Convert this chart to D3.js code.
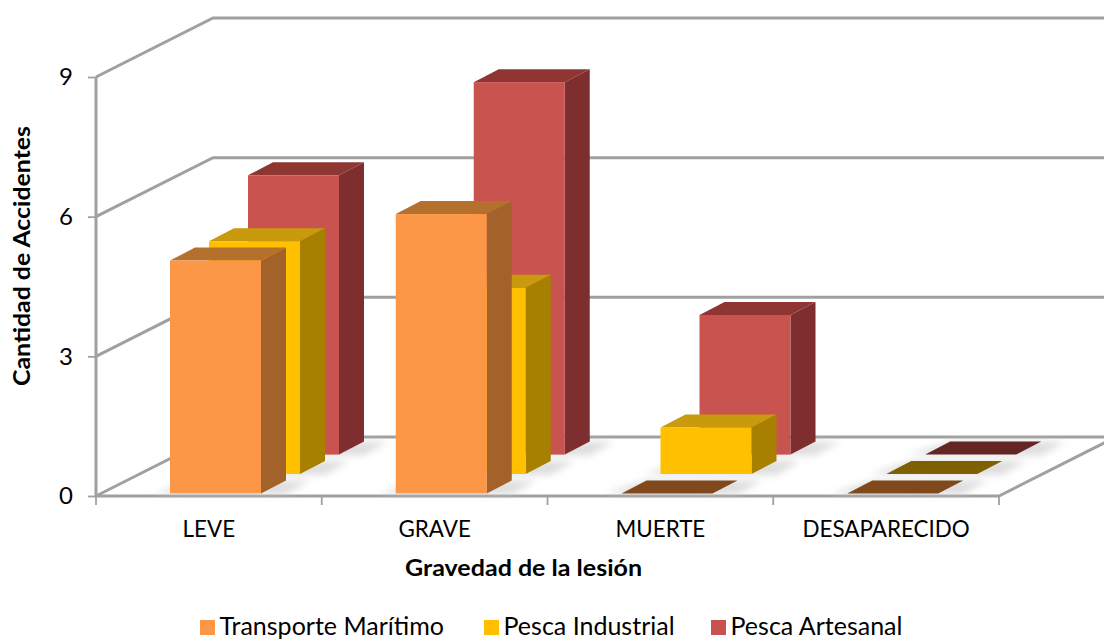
<!DOCTYPE html>
<html><head><meta charset="utf-8">
<script src="https://cdn.jsdelivr.net/npm/d3@7"></script>
<style>html,body{margin:0;padding:0;background:#fff;overflow:hidden}svg{display:block}text{font-family:Lato,"Open Sans",sans-serif;fill:#000}</style>
</head><body><svg id="c" width="1104" height="639"></svg>
<script>
const categories = ["LEVE","GRAVE","MUERTE","DESAPARECIDO"];
const seriesNames = ["Transporte Marítimo","Pesca Industrial","Pesca Artesanal"];
const transporte = [5,6,0,0];
const industrial = [5,4,1,0];
const artesanal = [6,8,3,0];
const yTicks = [0,3,6,9];
const faceColors = ["#fb9747","#ffc000","#c8524f"];
const topColors = ["#b5702f","#c99a08","#8f3533"];
const sideColors = ["#a3622c","#a88000","#7e2f2d"];
const flatColors = ["#7f4a1c","#7f6000","#632523"];

const svg = d3.select("#c");
const L=96,R=999,B=496,T=77, DX=117, DY=-59;
const x = d3.scaleBand().domain(categories).range([L,R]);
const y = d3.scaleLinear().domain([0,9]).range([B,T]);
const GRID="#a0a0a0";

const defs = svg.append("defs");
defs.append("filter").attr("id","sh").attr("x","-30%").attr("y","-100%").attr("width","160%").attr("height","300%")
  .append("feGaussianBlur").attr("stdDeviation",3.5);
defs.append("filter").attr("id","soft").append("feGaussianBlur").attr("stdDeviation",0.6);

// walls
const grid = svg.append("g").attr("fill","none").attr("stroke",GRID).attr("stroke-width",3).attr("filter","url(#soft)");
yTicks.forEach(t=>{
  grid.append("path").attr("d",d3.line()([[L,y(t)],[L+DX,y(t)+DY],[1104,y(t)+DY]]));
});
grid.append("path").attr("d",d3.line()([[L,T],[L,B],[R,B],[R+DX,B+DY]]));

// axes
const yAxis = d3.axisLeft(y).tickValues(yTicks).tickSize(8).tickPadding(15).tickFormat(d3.format("d"));
const ya = svg.append("g").attr("transform",`translate(${L},0)`).call(yAxis);
ya.select(".domain").remove();
ya.selectAll("line").attr("stroke",GRID).attr("stroke-width",1.8);
ya.selectAll("text").style("font-size","24px").attr("fill","#000");

const xa = svg.append("g").attr("transform",`translate(0,${B})`)
  .call(d3.axisBottom(x).tickSize(0).tickPadding(25));
xa.select(".domain").remove();
xa.selectAll("text").style("font-size","22.4px").attr("fill","#000");
svg.append("g").selectAll("line").data([...categories.map(c=>x(c)),R]).join("line")
  .attr("x1",d=>d).attr("x2",d=>d).attr("y1",B).attr("y2",B+9).attr("stroke",GRID).attr("stroke-width",1.8);

// bars
const barW=91, depthX=25, depthY=-13, stepX=39, stepY=-19.4, pad=74, base=2.6;
const all=[transporte,industrial,artesanal];
const poly=(pts,fill,g)=>g.append("polygon").attr("points",pts.map(p=>p.join(",")).join(" ")).attr("fill",fill);
const bars = svg.append("g");
[2,1,0].forEach(s=>{
  const shadowG = bars.append("g").attr("filter","url(#sh)");
  const g = bars.append("g").attr("filter","url(#soft)");
  categories.forEach((c,i)=>{
    const v=all[s][i];
    const x0=x(c)+pad+s*stepX, x1=x0+barW;
    const by=B-base+s*stepY, h=B-y(v), ty=by-h;
    poly([[x0-16,by],[x1+depthX,by+1],[x1+depthX+24,by+depthY],[x0+depthX,by+depthY]],"#c8c8c8",shadowG).attr("opacity",0.6);
    if(v===0){
      poly([[x0,by],[x1,by],[x1+depthX,by+depthY],[x0+depthX,by+depthY]],flatColors[s],g);
    } else {
      poly([[x1,by],[x1,ty],[x1+depthX,ty+depthY],[x1+depthX,by+depthY]],sideColors[s],g);
      poly([[x0,ty],[x1,ty],[x1+depthX,ty+depthY],[x0+depthX,ty+depthY]],topColors[s],g);
      g.append("rect").attr("x",x0).attr("y",ty).attr("width",barW).attr("height",h).attr("fill",faceColors[s]);
    }
  });
});

// titles
svg.append("text").attr("x",523.5).attr("y",576).attr("text-anchor","middle")
  .attr("textLength",237).attr("lengthAdjust","spacingAndGlyphs")
  .style("font-size","22.5px").style("font-weight","700").text("Gravedad de la lesión");
svg.append("text").attr("transform","translate(30,256) rotate(-90)").attr("text-anchor","middle")
  .attr("textLength",260).attr("lengthAdjust","spacingAndGlyphs")
  .style("font-size","22.5px").style("font-weight","700").text("Cantidad de Accidentes");

// legend
const legendX=[200,484,711];
const leg = svg.append("g").selectAll("g").data(seriesNames).join("g")
  .attr("transform",(d,i)=>`translate(${legendX[i]},620)`);
leg.append("rect").attr("width",15).attr("height",15).attr("fill",(d,i)=>faceColors[i]);
leg.append("text").attr("x",19.5).attr("y",15).style("font-size","25px").text(d=>d);
</script></body></html>
